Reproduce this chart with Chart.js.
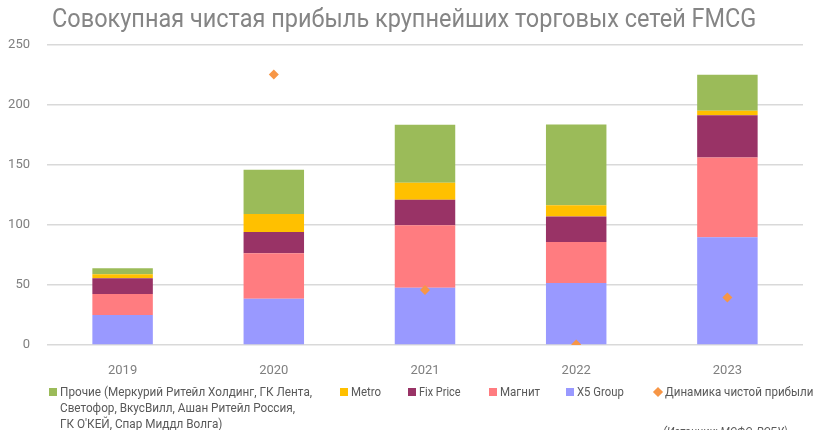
<!DOCTYPE html>
<html>
<head>
<meta charset="utf-8">
<script src="https://cdn.jsdelivr.net/npm/chart.js@4"></script>
<style>
  html, body { margin: 0; padding: 0; background: #fff; }
  #wrap { position: relative; width: 813px; height: 430px; overflow: hidden; font-family: Roboto, sans-serif; color: #595959; }
  #chart { position: absolute; left: 0; top: 0; }
  .fit { position: absolute; white-space: nowrap; transform-origin: left top; }
  #title { left: 52px; top: 4px; font-size: 25px; color: #858585; }
  .lg { position: absolute; font-size: 13px; line-height: 16px; white-space: nowrap; }
  .sw { position: absolute; width: 8px; height: 8px; }
  #src { left: 663px; top: 424px; font-size: 13px; font-style: italic; color: #595959; }
</style>
</head>
<body>
<div id="wrap">
  <canvas id="chart" width="813" height="430"></canvas>
  <div id="title" class="fit" data-w="704">Совокупная чистая прибыль крупнейших торговых сетей FMCG</div>
  <div id="legend"></div>
  <div id="src" class="fit">(Источник: МСФО, РСБУ)</div>
</div>
<script>
const years = ['2019', '2020', '2021', '2022', '2023'];
const x5 = [25.1, 38.6, 47.8, 51.6, 89.7];
const magnit = [17.3, 37.9, 51.9, 34.2, 66.5];
const fixPrice = [13.2, 17.6, 21.3, 21.2, 35.2];
const metro = [3.3, 15.1, 14.2, 9.5, 3.9];
const others = [5.1, 36.9, 48.4, 67.3, 29.9];
const growth = [null, 225.5, 45.8, 0.5, 39.6];
const yTicks = [0, 50, 100, 150, 200, 250];

const colors = {
  others: '#9bbb59', metro: '#ffc000', fixPrice: '#993366',
  magnit: '#ff7c80', x5: '#9999ff', growth: '#f79646'
};

const barDs = (label, data, color) => ({
  type: 'bar', label, data, backgroundColor: color,
  barPercentage: 0.8, categoryPercentage: 0.5, stack: 's', order: 2
});

new Chart(document.getElementById('chart'), {
  data: {
    labels: years,
    datasets: [
      {
        type: 'line', label: 'Динамика чистой прибыли', data: growth,
        showLine: false, pointStyle: 'rectRot', pointRadius: 5,
        backgroundColor: colors.growth, borderColor: colors.growth, borderWidth: 0, order: 1
      },
      barDs('X5 Group', x5, colors.x5),
      barDs('Магнит', magnit, colors.magnit),
      barDs('Fix Price', fixPrice, colors.fixPrice),
      barDs('Metro', metro, colors.metro),
      barDs('Прочие', others, colors.others)
    ]
  },
  options: {
    responsive: false,
    animation: false,
    layout: { padding: { top: 45, right: 10, bottom: 55, left: 0 } },
    plugins: { legend: { display: false }, tooltip: { enabled: false } },
    scales: {
      x: {
        stacked: true,
        grid: { display: false },
        border: { display: false },
        ticks: { color: '#7f7f7f', font: { family: 'Roboto', size: 13 }, padding: 10 },
        afterFit: a => { a.height = 30; }
      },
      y: {
        stacked: true,
        min: 0, max: 250,
        afterBuildTicks: a => { a.ticks = yTicks.map(v => ({ value: v })); },
        grid: { color: '#d9d9d9', lineWidth: 1.5, drawTicks: false },
        border: { display: false },
        ticks: { color: '#7f7f7f', font: { family: 'Roboto', size: 13 }, padding: 17 },
        afterFit: a => { a.width = 47; }
      }
    }
  }
});

// legend, laid out like the original (condensed text)
const legendItems = [
  { x: 49, text: ['Прочие (Меркурий Ритейл Холдинг, ГК Лента,', 'Светофор, ВкусВилл, Ашан Ритейл Россия,', 'ГК О\'КЕЙ, Спар Миддл Волга)'], color: colors.others, w: 252 },
  { x: 340, text: ['Metro'], color: colors.metro, w: 30 },
  { x: 408, text: ['Fix Price'], color: colors.fixPrice, w: 42 },
  { x: 489, text: ['Магнит'], color: colors.magnit, w: 40 },
  { x: 566, text: ['X5 Group'], color: colors.x5, w: 47 },
  { x: 654, text: ['Динамика чистой прибыли'], color: colors.growth, w: 148, diamond: true }
];
const legend = document.getElementById('legend');
for (const it of legendItems) {
  const sw = document.createElement('div');
  sw.className = 'sw';
  sw.style.left = it.x + 'px';
  sw.style.top = '388px';
  sw.style.background = it.color;
  if (it.diamond) { sw.style.transform = 'rotate(45deg) scale(0.9)'; }
  legend.appendChild(sw);
  const t = document.createElement('div');
  t.className = 'lg fit';
  t.style.left = (it.x + 11) + 'px';
  t.style.top = '384px';
  t.innerHTML = it.text.join('<br>');
  t.dataset.w = it.w;
  legend.appendChild(t);
}

for (const el of document.querySelectorAll('.fit')) {
  const w = Number(el.dataset.w || 0);
  if (w) el.style.transform = `scaleX(${w / el.scrollWidth})`;
  else el.style.transform = 'scaleX(0.85)';
}
</script>
</body>
</html>
